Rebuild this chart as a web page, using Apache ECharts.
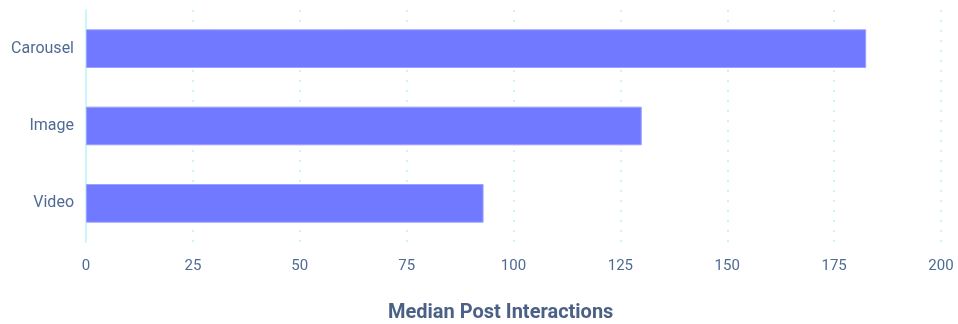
<!DOCTYPE html>
<html>
<head>
<meta charset="utf-8">
<style>
  html, body { margin: 0; padding: 0; background: #fff; }
  #chart { width: 958px; height: 324px; }
</style>
<script src="https://cdn.jsdelivr.net/npm/echarts@6/dist/echarts.min.js"></script>
</head>
<body>
<div id="chart"></div>
<script>
const categories = ['Carousel', 'Image', 'Video'];
// read against the gridlines of the reference
const interactions = [182.5, 130, 93];
const axisTicks = { min: 0, max: 200, interval: 25 };

const labelColor = '#4f6b94';
const gridColor = '#c8f7fb';

const chart = echarts.init(document.getElementById('chart'), null, { renderer: 'canvas' });

const option = {
	animation: false,
	textStyle: { fontFamily: 'Roboto' },
	title: {
		text: 'Median Post Interactions',
		left: 383,
		top: 298,
		textStyle: {
			color: '#4a6185',
			fontSize: 20,
			fontWeight: 'bold',
			fontFamily: 'Roboto'
		}
	},
	grid: {
		left: 86,
		right: 17,
		top: 10,
		bottom: 82
	},
	xAxis: {
		type: 'value',
		min: axisTicks.min,
		max: axisTicks.max,
		interval: axisTicks.interval,
		axisLine: { show: false },
		axisTick: { show: false },
		axisLabel: {
			color: labelColor,
			fontSize: 15,
			margin: 17
		},
		splitLine: {
			show: true,
			lineStyle: {
				color: gridColor,
				type: [2, 8],
				width: 2
			}
		}
	},
	yAxis: {
		type: 'category',
		inverse: true,
		data: categories,
		axisLine: {
			show: true,
			lineStyle: { color: gridColor, width: 2 }
		},
		axisTick: { show: false },
		axisLabel: {
			color: labelColor,
			fontSize: 16,
			margin: 12
		}
	},
	series: [{
		type: 'bar',
		data: interactions,
		barWidth: '50%',
		itemStyle: {
			color: '#7079ff',
			borderColor: '#9aa1ff',
			borderWidth: 1
		}
	}]
};

chart.setOption(option);
</script>
</body>
</html>
